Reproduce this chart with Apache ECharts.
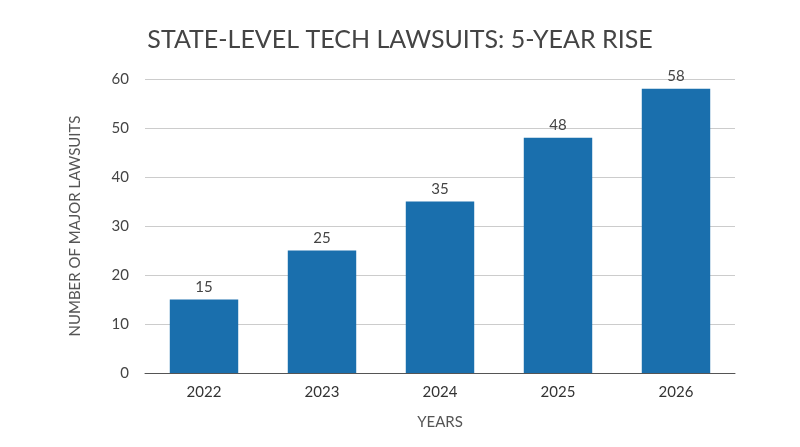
<!DOCTYPE html>
<html lang="en" style="height:100%">
<head>
<meta charset="UTF-8">
<title>State-level tech lawsuits</title>
<script src="https://cdn.jsdelivr.net/npm/echarts@6/dist/echarts.min.js"></script>
</head>
<body style="height:100%;margin:0;background:#fff">
<div id="main" style="width:800px;height:447px;"></div>
<script type="text/javascript">
var years = ['2022', '2023', '2024', '2025', '2026'];
var lawsuits = [15, 25, 35, 48, 58];

var myChart = echarts.init(document.getElementById('main'));
var option = {
    textStyle: { fontFamily: 'Lato, "Noto Sans", sans-serif' },
    title: {
        text: 'STATE-LEVEL TECH LAWSUITS: 5-YEAR RISE',
        left: 'center',
        top: 22,
        textStyle: { fontSize: 25, fontWeight: 'normal', color: '#444' }
    },
    grid: { left: 145, right: 65, top: 79, bottom: 74 },
    xAxis: {
        type: 'category',
        data: years,
        name: 'YEARS',
        nameLocation: 'middle',
        nameGap: 42,
        nameTextStyle: { fontSize: 15, color: '#555' },
        axisLine: { lineStyle: { color: '#555' } },
        axisTick: { show: false },
        axisLabel: { fontSize: 15, color: '#333', margin: 12 }
    },
    yAxis: {
        type: 'value',
        min: 0, max: 60, interval: 10,
        name: 'NUMBER OF MAJOR LAWSUITS',
        nameLocation: 'middle',
        nameGap: 62,
        nameTextStyle: { fontSize: 15, color: '#555' },
        axisLabel: { fontSize: 15, color: '#444', margin: 16 },
        splitLine: { lineStyle: { color: '#ccc' } }
    },
    series: [{
        type: 'bar',
        data: lawsuits,
        barWidth: '58%',
        itemStyle: { color: '#1a6fad' },
        label: { show: true, position: 'top', fontSize: 15, color: '#444' }
    }]
};
myChart.setOption(option);
</script>
</body>
</html>
